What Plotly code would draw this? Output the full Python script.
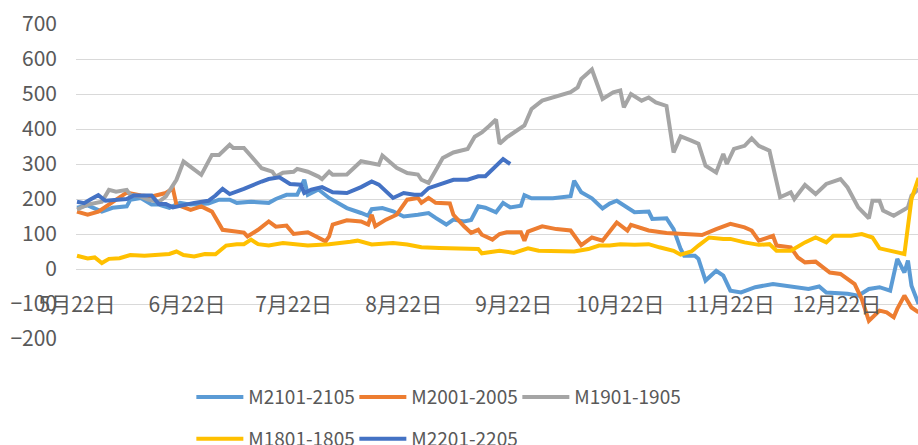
import plotly.graph_objects as go

# ---------------- data (month-day; Jan belongs to the following year) ----------------
tick_dates = ["05-22", "06-22", "07-22", "08-22", "09-22", "10-22", "11-22", "12-22"]
tick_labels = ["5月22日", "6月22日", "7月22日", "8月22日", "9月22日", "10月22日", "11月22日", "12月22日"]

m2101_dates = ["05-22","05-25","05-29","06-01","06-05","06-06","06-09","06-12","06-14","06-17",
               "06-20","06-23","06-28","07-01","07-04","07-06","07-10","07-13","07-15","07-17",
               "07-20","07-23","07-25","07-26","07-29","08-01","08-06","08-10","08-12","08-13",
               "08-16","08-19","08-22","08-26","08-29","08-31","09-03","09-05","09-08","09-10",
               "09-12","09-14","09-17","09-19","09-21","09-24","09-25","09-27","10-03","10-08",
               "10-09","10-11","10-14","10-17","10-19","10-21","10-23","10-26","10-30","10-31",
               "11-04","11-06","11-08","11-09","11-12","11-13","11-15","11-18","11-20","11-22",
               "11-25","11-29","12-04","12-09","12-14","12-17","12-19","12-25","12-28","12-31",
               "01-03","01-06","01-08","01-10","01-11","01-12","01-14"]
m2101_vals = [175,182,164,175,179,198,203,184,184,175,
              189,184,187,198,198,189,192,189,189,200,
              212,212,255,212,227,203,174,160,152,171,
              174,165,150,155,160,146,127,141,136,140,
              179,175,162,189,176,181,211,202,202,208,
              252,219,202,173,187,195,181,162,164,143,
              145,114,57,38,38,29,-33,-5,-19,-62,
              -67,-52,-43,-50,-57,-50,-67,-71,-76,-57,
              -52,-62,29,-10,24,-48,-100]

m2001_dates = ["05-22","05-25","05-28","05-31","06-02","06-05","06-09","06-12","06-16","06-18",
               "06-19","06-23","06-26","06-29","07-02","07-05","07-08","07-09","07-12","07-15",
               "07-17","07-20","07-22","07-26","07-29","07-31","08-01","08-02","08-06","08-10",
               "08-12","08-13","08-14","08-17","08-20","08-23","08-26","08-27","08-29","08-31",
               "09-04","09-05","09-08","09-10","09-12","09-13","09-16","09-18","09-20","09-24",
               "09-25","09-26","09-30","10-04","10-08","10-11","10-14","10-17","10-21","10-24",
               "10-25","10-30","11-04","11-10","11-14","11-18","11-22","11-26","11-28","11-30",
               "12-04","12-05","12-09","12-11","12-13","12-16","12-20","12-23","12-27","12-29",
               "12-31","01-03","01-05","01-07","01-08","01-10","01-12","01-14"]
m2001_vals = [164,155,164,184,198,218,210,207,217,230,
              184,169,179,164,112,107,104,93,112,136,
              121,124,100,105,89,79,93,127,139,136,
              127,155,122,141,155,198,203,189,203,189,
              187,155,122,103,112,98,84,100,105,105,
              81,107,122,114,110,68,90,81,133,110,
              126,110,103,100,97,114,129,119,110,81,
              95,67,62,33,19,21,-10,-14,-43,-86,
              -148,-119,-124,-138,-114,-76,-110,-124]

m1901_dates = ["05-22","05-25","05-29","05-31","06-02","06-05","06-06","06-09","06-11","06-14",
               "06-16","06-18","06-19","06-21","06-23","06-26","06-29","07-01","07-04","07-05",
               "07-08","07-11","07-13","07-16","07-17","07-19","07-22","07-23","07-26","07-29",
               "07-30","08-01","08-02","08-06","08-10","08-15","08-16","08-20","08-23","08-26",
               "08-27","08-29","09-02","09-05","09-09","09-11","09-13","09-15","09-17","09-18",
               "09-20","09-25","09-27","09-30","10-05","10-08","10-10","10-11","10-14","10-17",
               "10-20","10-22","10-23","10-25","10-28","10-30","11-01","11-04","11-06","11-08",
               "11-11","11-13","11-15","11-18","11-20","11-21","11-23","11-26","11-28","11-30",
               "12-03","12-06","12-09","12-10","12-13","12-16","12-19","12-23","12-25","12-28",
               "12-31","01-01","01-03","01-04","01-07","01-09","01-11","01-12","01-14"]
m1901_vals = [170,184,192,226,221,226,212,207,198,192,
              207,236,255,307,293,269,326,326,355,346,
              346,312,288,278,264,275,278,286,278,264,
              257,278,269,270,308,298,324,289,274,270,
              255,246,317,333,343,378,390,408,427,358,
              376,410,457,481,495,505,519,543,570,486,
              505,510,462,500,481,490,476,466,333,379,
              367,358,295,276,329,300,343,352,373,352,
              338,205,219,200,240,214,243,257,233,176,
              145,195,195,167,152,165,176,210,229]

m1801_dates = ["05-22","05-25","05-27","05-29","05-31","06-03","06-06","06-10","06-14","06-17",
               "06-19","06-21","06-24","06-27","06-30","07-03","07-06","07-08","07-10","07-12",
               "07-15","07-19","07-26","08-01","08-07","08-09","08-13","08-19","08-23","08-27",
               "09-01","09-07","09-12","09-13","09-16","09-18","09-22","09-26","09-29","10-04",
               "10-09","10-13","10-16","10-19","10-22","10-26","10-30","11-02","11-06","11-08",
               "11-11","11-13","11-16","11-20","11-22","11-26","11-30","12-03","12-05","12-09",
               "12-13","12-16","12-19","12-21","12-26","12-29","01-01","01-03","01-09","01-10",
               "01-12","01-14"]
m1801_vals = [38,30,33,17,29,31,40,38,41,43,
              50,40,36,43,42,67,71,71,84,71,
              67,74,67,71,78,81,70,74,70,62,
              60,59,57,45,50,52,46,59,52,50,
              50,57,67,67,71,69,71,62,52,41,
              50,67,90,86,86,76,69,71,52,52,
              76,90,76,95,95,100,90,59,43,43,
              200,260]

m2201_dates = ["05-22","05-24","05-26","05-28","05-30","06-02","06-05","06-07","06-09","06-12",
               "06-14","06-16","06-18","06-21","06-24","06-28","06-30","07-02","07-04","07-08",
               "07-10","07-13","07-15","07-18","07-21","07-24","07-25","07-27","07-30","08-02",
               "08-06","08-10","08-13","08-15","08-19","08-22","08-25","08-27","08-29","09-02",
               "09-05","09-09","09-12","09-14","09-17","09-19","09-21"]
m2201_vals = [192,188,200,211,195,198,200,210,211,210,
              186,186,176,183,189,195,210,229,214,229,
              238,250,257,262,243,241,217,227,234,219,
              217,234,250,241,203,217,212,212,231,246,
              255,255,265,265,293,314,300]


def full_date(md):
    return ("2021-" if md.startswith("01-") else "2020-") + md


series = [
    ("M2101-2105", m2101_dates, m2101_vals, "#5B9BD5", "legend"),
    ("M2001-2005", m2001_dates, m2001_vals, "#ED7D31", "legend"),
    ("M1901-1905", m1901_dates, m1901_vals, "#A5A5A5", "legend"),
    ("M1801-1805", m1801_dates, m1801_vals, "#FFC000", "legend2"),
    ("M2201-2205", m2201_dates, m2201_vals, "#4472C4", "legend2"),
]

fig = go.Figure()
for name, ds, vs, color, lg in series:
    assert len(ds) == len(vs), name
    fig.add_trace(go.Scatter(
        x=[full_date(d) for d in ds], y=vs, name=name, mode="lines",
        line=dict(color=color, width=4), legend=lg,
    ))

FONT = "Noto Sans CJK SC, Noto Sans, sans-serif"
TXT = "#595959"
GRID = "#D9D9D9"
X_RANGE = ["2020-05-21 17:15", "2021-01-13 20:00"]
TICKS = [full_date(d) for d in tick_dates]

legend_common = dict(
    orientation="h", x=0.137, xanchor="left", yref="container", yanchor="middle",
    itemwidth=47, entrywidth=101, entrywidthmode="pixels",
    font=dict(size=19, color=TXT, family=FONT), bgcolor="rgba(0,0,0,0)",
)

fig.update_layout(
    width=918, height=445,
    margin=dict(l=76, r=0, t=24, b=106, autoexpand=False),
    plot_bgcolor="white", paper_bgcolor="white",
    font=dict(family=FONT, color=TXT),
    # axis carrying the category labels (sits a little below the zero line, like Excel)
    xaxis=dict(
        type="date", range=X_RANGE, tickvals=TICKS, ticktext=tick_labels,
        anchor="free", position=0.155, automargin=False,
        showline=False, ticks="", showgrid=False, zeroline=False,
        tickfont=dict(size=21, color=TXT, family=FONT),
    ),
    # axis line + tick marks drawn on the zero line
    xaxis2=dict(
        type="date", range=X_RANGE, tickvals=TICKS, overlaying="x", matches="x",
        anchor="free", position=2 / 9, automargin=False,
        showline=True, linecolor=GRID, linewidth=1,
        ticks="outside", ticklen=7, tickcolor=GRID,
        showticklabels=False, showgrid=False, zeroline=False,
    ),
    yaxis=dict(
        range=[-200, 700], dtick=100, tick0=0, automargin=False,
        showgrid=True, gridcolor=GRID, gridwidth=1,
        zeroline=False, showline=False, ticks="",
        tickfont=dict(size=21, color=TXT, family=FONT),
        ticklabelstandoff=18,
    ),
    legend=dict(legend_common, y=0.1075),
    legend2=dict(legend_common, y=0.0135),
    showlegend=True,
)

fig.write_html("out.html", config={"displayModeBar": False},
               post_script="document.body.style.margin='0';")
